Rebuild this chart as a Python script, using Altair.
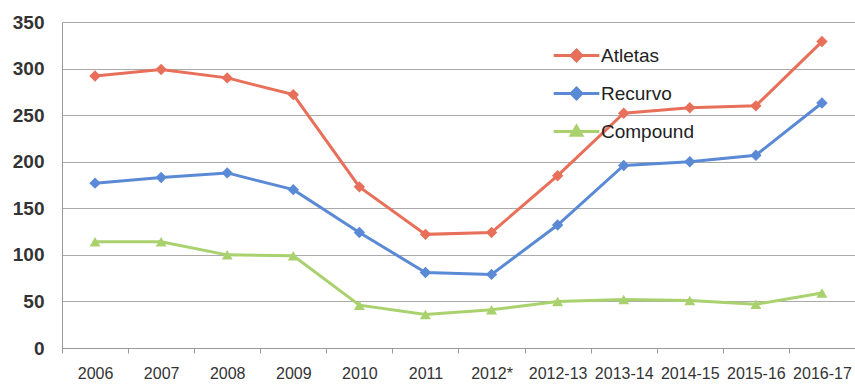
import altair as alt
import pandas as pd

categories = ["2006", "2007", "2008", "2009", "2010", "2011", "2012*",
              "2012-13", "2013-14", "2014-15", "2015-16", "2016-17"]
atletas = [292, 299, 290, 272, 173, 122, 124, 185, 252, 258, 260, 329]
recurvo = [177, 183, 188, 170, 124, 81, 79, 132, 196, 200, 207, 263]
compound = [114, 114, 100, 99, 46, 36, 41, 50, 52, 51, 47, 59]
series = ["Atletas", "Recurvo", "Compound"]
colors = ["#E8705A", "#5A8AD6", "#A9D26E"]

# legend glyphs: short line with the marker on it (Excel style)
legend_shapes = [
    "M-1.2,0H1.2M0,-0.28L0.28,0L0,0.28L-0.28,0Z",
    "M-1.2,0H1.2M0,-0.28L0.28,0L0,0.28L-0.28,0Z",
    "M-1.2,0H1.2M-0.28,0.2L0,-0.28L0.28,0.2Z",
]

rows = []
for name, vals in zip(series, [atletas, recurvo, compound]):
    for c, v in zip(categories, vals):
        rows.append({"cat": c, "value": v, "series": name})
df = pd.DataFrame(rows)

x = alt.X("cat:N", sort=categories, title=None,
          scale=alt.Scale(type="band", paddingInner=0, paddingOuter=0),
          axis=alt.Axis(labelAngle=0, labelFontSize=16, labelColor="#333",
                        labelFont="Liberation Sans", labelPadding=12,
                        tickBand="extent", tickSize=5, tickColor="#999",
                        domainColor="#999", grid=False))
y = alt.Y("value:Q", title=None,
          scale=alt.Scale(domain=[0, 350], nice=False),
          axis=alt.Axis(values=[0, 50, 100, 150, 200, 250, 300, 350],
                        labelFontSize=19, labelColor="#333",
                        labelFont="Liberation Sans", labelFontWeight="bold",
                        labelPadding=18, ticks=False, domainColor="#999",
                        gridColor="#aaa", gridWidth=1))

leg = alt.Legend(title=None, orient="none", legendX=494, legendY=13, padding=0,
                 symbolSize=1444, symbolStrokeWidth=3, symbolOpacity=1,
                 labelFontSize=19, labelColor="#222", labelFont="Liberation Sans",
                 rowPadding=6, labelOffset=4)
color = alt.Color("series:N", sort=series,
                  scale=alt.Scale(domain=series, range=colors), legend=leg)

base = alt.Chart(df)
lines = base.mark_line(strokeWidth=3).encode(x=x, y=y, color=color)
diamonds = base.transform_filter(alt.datum.series != "Compound").mark_point(
    filled=True, size=130, opacity=1, shape="diamond").encode(x=x, y=y, color=color)
triangles = base.transform_filter(alt.datum.series == "Compound").mark_point(
    filled=True, size=120, opacity=1, shape="triangle-up").encode(x=x, y=y, color=color)
legend_layer = base.mark_point(filled=False, opacity=0, strokeWidth=3).encode(
    x=x, y=y, color=color,
    shape=alt.Shape("series:N", sort=series,
                    scale=alt.Scale(domain=series, range=legend_shapes), legend=leg))

chart = alt.layer(lines, diamonds, triangles, legend_layer).properties(
    width=793, height=326,
    autosize=alt.AutoSizeParams(type="none"),
    padding={"left": 62, "top": 22, "right": 0, "bottom": 36},
    background="white",
).configure_view(stroke=None)

chart.save("out.html", embed_options={"renderer": "svg", "actions": False})
